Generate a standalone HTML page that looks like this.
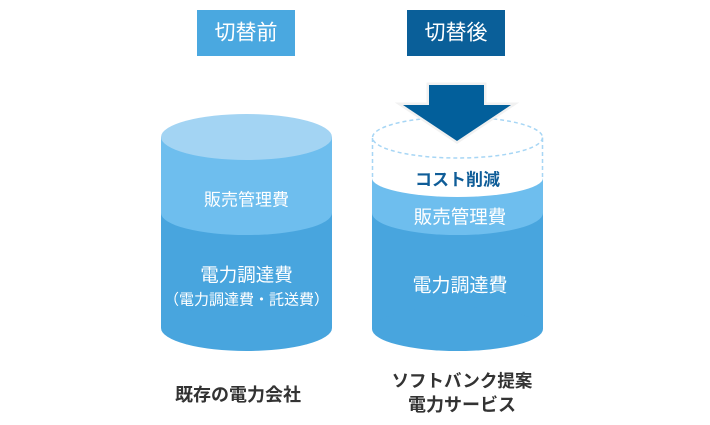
<!DOCTYPE html>
<html><head><meta charset="utf-8"><style>
html,body{margin:0;padding:0;background:#fff;}
svg{display:block;}
text{font-family:"Liberation Sans","Noto Sans CJK JP",sans-serif;}
</style></head><body>
<svg width="710" height="425" viewBox="0 0 710 425" xmlns="http://www.w3.org/2000/svg">
<rect x="0" y="0" width="710" height="425" fill="#fff"/>
<!-- header boxes -->
<rect x="197" y="10" width="98" height="46" fill="#4aa8e0"/>
<text x="246" y="33" font-size="21" fill="#fff" text-anchor="middle" dominant-baseline="central">切替前</text>
<rect x="407" y="10" width="98" height="46" fill="#0a5f99"/>
<text x="456" y="33" font-size="21" fill="#fff" text-anchor="middle" dominant-baseline="central">切替後</text>

<!-- left cylinder -->
<rect x="161" y="213" width="171" height="115" fill="#48a5de"/>
<ellipse cx="246.5" cy="328" rx="85.5" ry="23" fill="#48a5de"/>
<rect x="161" y="137" width="171" height="76" fill="#6ebeee"/>
<ellipse cx="246.5" cy="213" rx="85.5" ry="22" fill="#6ebeee"/>
<ellipse cx="246.5" cy="137" rx="85.5" ry="23" fill="#a3d4f3"/>
<text x="246.5" y="200" font-size="17" fill="#fff" text-anchor="middle" dominant-baseline="central">販売管理費</text>
<text x="246.5" y="275" font-size="18.5" fill="#fff" text-anchor="middle" dominant-baseline="central">電力調達費</text>
<text x="246.5" y="300" font-size="15" fill="#fff" text-anchor="middle" dominant-baseline="central">（電力調達費・託送費）</text>
<text x="238" y="395" font-size="18" font-weight="bold" fill="#333" text-anchor="middle" dominant-baseline="central">既存の電力会社</text>

<!-- right cylinder -->
<rect x="372" y="213" width="171" height="116" fill="#48a5de"/>
<ellipse cx="457.5" cy="329" rx="85.5" ry="22" fill="#48a5de"/>
<rect x="372" y="178" width="171" height="35" fill="#6ebeee"/>
<ellipse cx="457.5" cy="213" rx="85.5" ry="22" fill="#6ebeee"/>
<ellipse cx="457.5" cy="178" rx="85.5" ry="19" fill="#fff"/>
<g fill="none" stroke="#a7d6f5" stroke-width="1.5" stroke-dasharray="4 3">
<ellipse cx="457.5" cy="137.5" rx="85" ry="20.5"/>
<line x1="372.5" y1="138" x2="372.5" y2="178"/>
<line x1="542.5" y1="138" x2="542.5" y2="178"/>
</g>
<text x="457.5" y="180" font-size="17" font-weight="bold" fill="#0f5d98" text-anchor="middle" dominant-baseline="central">コスト削減</text>
<text x="460" y="217" font-size="18.5" fill="#fff" text-anchor="middle" dominant-baseline="central">販売管理費</text>
<text x="460" y="286" font-size="19" fill="#fff" text-anchor="middle" dominant-baseline="central">電力調達費</text>
<text x="462" y="381" font-size="17.5" font-weight="bold" fill="#333" text-anchor="middle" dominant-baseline="central">ソフトバンク提案</text>
<text x="462" y="405" font-size="18" font-weight="bold" fill="#333" text-anchor="middle" dominant-baseline="central">電力サービス</text>

<!-- arrow -->
<polygon points="429,85 484,85 484,105 511,105 457,141 403,105 429,105" fill="#eeeeee" stroke="#eeeeee" stroke-width="5" stroke-linejoin="miter" opacity="0.8"/>
<polygon points="429,85 484,85 484,105 511,105 457,141 403,105 429,105" fill="#025f9b"/>
</svg>
</body></html>
